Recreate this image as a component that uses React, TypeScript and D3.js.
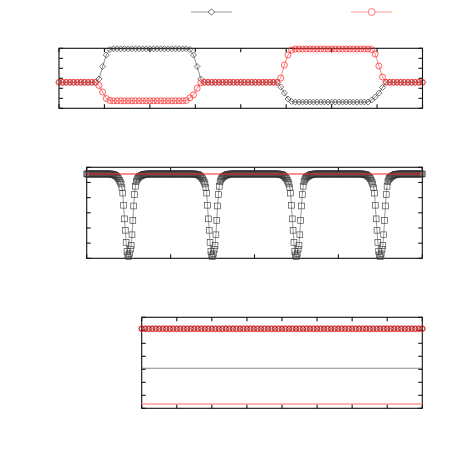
import React from "react";
import * as d3 from "d3";

// ---------- Panel 1 (top): two series, 101 samples ----------
const topBlack = [
  2.6, 2.6, 2.6, 2.6, 2.6, 2.6, 2.6, 2.6, 2.6, 2.6, 2.6,
  2.93, 4.18, 5.33, 5.88,
  5.95, 5.95, 5.95, 5.95, 5.95, 5.95, 5.95, 5.95, 5.95, 5.95, 5.95,
  5.95, 5.95, 5.95, 5.95, 5.95, 5.95, 5.95, 5.95, 5.95, 5.95,
  5.88, 5.33, 4.18, 2.93,
  2.6, 2.6, 2.6, 2.6, 2.6, 2.6, 2.6, 2.6, 2.6, 2.6, 2.6,
  2.6, 2.6, 2.6, 2.6, 2.6, 2.6, 2.6, 2.6, 2.6, 2.6,
  2.13, 1.53, 0.93, 0.68,
  0.63, 0.63, 0.63, 0.63, 0.63, 0.63, 0.63, 0.63, 0.63, 0.63, 0.63,
  0.63, 0.63, 0.63, 0.63, 0.63, 0.63, 0.63, 0.63, 0.63, 0.63,
  0.83, 1.13, 1.53, 2.08,
  2.6, 2.6, 2.6, 2.6, 2.6, 2.6, 2.6, 2.6, 2.6, 2.6, 2.6,
];
const topRed = [
  2.6, 2.6, 2.6, 2.6, 2.6, 2.6, 2.6, 2.6, 2.6, 2.6, 2.6,
  2.28, 1.63, 0.98, 0.78,
  0.75, 0.75, 0.75, 0.75, 0.75, 0.75, 0.75, 0.75, 0.75, 0.75,
  0.75, 0.75, 0.75, 0.75, 0.75, 0.75, 0.75, 0.75, 0.75, 0.75,
  0.78, 1.05, 1.35, 2.0, 2.55,
  2.6, 2.6, 2.6, 2.6, 2.6, 2.6, 2.6, 2.6, 2.6, 2.6, 2.6,
  2.6, 2.6, 2.6, 2.6, 2.6, 2.6, 2.6, 2.6, 2.6, 2.6,
  3.03, 4.33, 5.33, 5.83,
  5.93, 5.93, 5.93, 5.93, 5.93, 5.93, 5.93, 5.93, 5.93, 5.93, 5.93,
  5.93, 5.93, 5.93, 5.93, 5.93, 5.93, 5.93, 5.93, 5.93, 5.93,
  5.88, 5.43, 4.23, 3.13,
  2.6, 2.6, 2.6, 2.6, 2.6, 2.6, 2.6, 2.6, 2.6, 2.6, 2.6,
];
const topXTicks = [0, 12.5, 25, 37.5, 50, 62.5, 75, 87.5, 100];
const topYTicks = [0, 1, 2, 3, 4, 5, 6];

// ---------- Panel 2 (middle): dips ----------
const midCount = 400; // sample indices 0..400
const midBaseline = 5.56;
const midRedLevel = 5.56;
const midDipCenters = [50, 150, 250, 350];
const midDipProfile = [
  5.54, 5.53, 5.52, 5.5, 5.47, 5.43, 5.38, 5.32, 5.25, 5.15,
  5.03, 4.9, 4.65, 4.3, 3.5, 2.6, 1.85, 1.05, 0.45, 0.22,
  0.1,
  0.3, 0.6, 0.85, 1.55, 2.5, 3.45, 4.2, 4.75, 5.05, 5.18,
  5.27, 5.33, 5.38, 5.42, 5.45, 5.48, 5.5, 5.52, 5.53, 5.54,
];
const midXTicks = [0, 100, 200, 300, 400];
const midYTicks = [0, 1, 2, 3, 4, 5, 6];

// ---------- Panel 3 (bottom): flat series ----------
const botCount = 80;
const botCircleLevel = 6.12;
const botBlackLine = 3.08;
const botRedLine = 0.33;
const botXTicks = [0, 10, 20, 30, 40, 50, 60, 70, 80];
const botYTicks = [0, 1, 2, 3, 4, 5, 6, 7];

function midSeries(): number[] {
  const vals: number[] = new Array(midCount + 1).fill(midBaseline);
  const half = (midDipProfile.length - 1) / 2;
  midDipCenters.forEach((c) => {
    midDipProfile.forEach((v, k) => {
      const idx = c - half + k;
      if (idx >= 0 && idx <= midCount) vals[idx] = v;
    });
  });
  return vals;
}

type FrameProps = {
  x0: number; x1: number; y0: number; y1: number;
  xs: d3.ScaleLinear<number, number>; ys: d3.ScaleLinear<number, number>;
  xt: number[]; yt: number[];
};
function Frame({ x0, x1, y0, y1, xs, ys, xt, yt }: FrameProps) {
  const L = 4;
  return (
    <g stroke="#111" strokeWidth={1.1} fill="none">
      {xt.map((t, i) => (
        <g key={"x" + i}>
          <line x1={xs(t)} x2={xs(t)} y1={y1} y2={y1 - L} />
          <line x1={xs(t)} x2={xs(t)} y1={y0} y2={y0 + L} />
        </g>
      ))}
      {yt.map((t, i) => (
        <g key={"y" + i}>
          <line x1={x0} x2={x0 + L} y1={ys(t)} y2={ys(t)} />
          <line x1={x1} x2={x1 - L} y1={ys(t)} y2={ys(t)} />
        </g>
      ))}
      <rect x={x0} y={y0} width={x1 - x0} height={y1 - y0} />
    </g>
  );
}

const diamond = (cx: number, cy: number, r: number) =>
  `M${cx},${cy - r}L${cx + r},${cy}L${cx},${cy + r}L${cx - r},${cy}Z`;

export default function App() {
  // top panel
  const tx = d3.scaleLinear().domain([0, 100]).range([59, 422.5]);
  const ty = d3.scaleLinear().domain([0, 6]).range([108.3, 48.3]);
  const tline = d3.line<number>().x((_, i) => tx(i)).y((d) => ty(d));

  // middle panel
  const mx = d3.scaleLinear().domain([0, midCount]).range([86.7, 422.3]);
  const my = d3.scaleLinear().domain([0, 6]).range([258.3, 167.3]);
  const mVals = midSeries();
  const mline = d3.line<number>().x((_, i) => mx(i)).y((d) => my(d));

  // bottom panel
  const bx = d3.scaleLinear().domain([0, botCount]).range([141.7, 422.3]);
  const by = d3.scaleLinear().domain([0, 7]).range([408.3, 317.3]);
  const bIdx = d3.range(botCount + 1);

  return (
    <svg width={450} height={450} style={{ position: "absolute", left: 0, top: 0, background: "#fff" }}>
      {/* legend */}
      <g>
        <line x1={191} x2={232} y1={12} y2={12} stroke="#999" strokeWidth={1} />
        <path d={diamond(211.5, 12, 3.2)} fill="#fff" stroke="#333" strokeWidth={0.7} />
        <line x1={351} x2={392} y1={12} y2={12} stroke="#f99" strokeWidth={1} />
        <circle cx={371.7} cy={12} r={3.5} fill="#fff" stroke="#f44" strokeWidth={0.7} />
      </g>

      {/* top panel */}
      <Frame x0={59} x1={422.5} y0={48.3} y1={108.3} xs={tx} ys={ty} xt={topXTicks} yt={topYTicks} />
      <path d={tline(topBlack) || ""} fill="none" stroke="#444" strokeWidth={0.6} />
      {topBlack.map((v, i) => (
        <path key={"tb" + i} d={diamond(tx(i), ty(v), 3.0)} fill="none" stroke="#222" strokeWidth={0.6} />
      ))}
      <path d={tline(topRed) || ""} fill="none" stroke="#f33" strokeWidth={0.6} />
      {topRed.map((v, i) => (
        <circle key={"tr" + i} cx={tx(i)} cy={ty(v)} r={3.0} fill="none" stroke="#f22" strokeWidth={0.7} />
      ))}

      {/* middle panel */}
      <Frame x0={86.7} x1={422.3} y0={167.3} y1={258.3} xs={mx} ys={my} xt={midXTicks} yt={midYTicks} />
      <path d={mline(mVals) || ""} fill="none" stroke="#555" strokeWidth={0.6} />
      {mVals.map((v, i) => (
        <rect key={"ms" + i} x={mx(i) - 2.9} y={my(v) - 2.9} width={5.8} height={5.8} fill="none" stroke="#333" strokeWidth={0.6} />
      ))}
      <line x1={mx(0)} x2={mx(midCount)} y1={my(midRedLevel)} y2={my(midRedLevel)} stroke="#f22" strokeWidth={1} />

      {/* bottom panel */}
      <Frame x0={141.7} x1={422.3} y0={317.3} y1={408.3} xs={bx} ys={by} xt={botXTicks} yt={botYTicks} />
      <line x1={bx(0)} x2={bx(botCount)} y1={by(botBlackLine)} y2={by(botBlackLine)} stroke="#555" strokeWidth={0.7} />
      <line x1={bx(0)} x2={bx(botCount)} y1={by(botRedLine)} y2={by(botRedLine)} stroke="#f99" strokeWidth={1.5} />
      {bIdx.map((i) => (
        <circle key={"bb" + i} cx={bx(i)} cy={by(botCircleLevel)} r={2.5} fill="none" stroke="#500" strokeWidth={0.8} />
      ))}
      {bIdx.map((i) => (
        <circle key={"br" + i} cx={bx(i)} cy={by(botCircleLevel)} r={3.0} fill="none" stroke="#f33" strokeWidth={0.7} />
      ))}
    </svg>
  );
}
